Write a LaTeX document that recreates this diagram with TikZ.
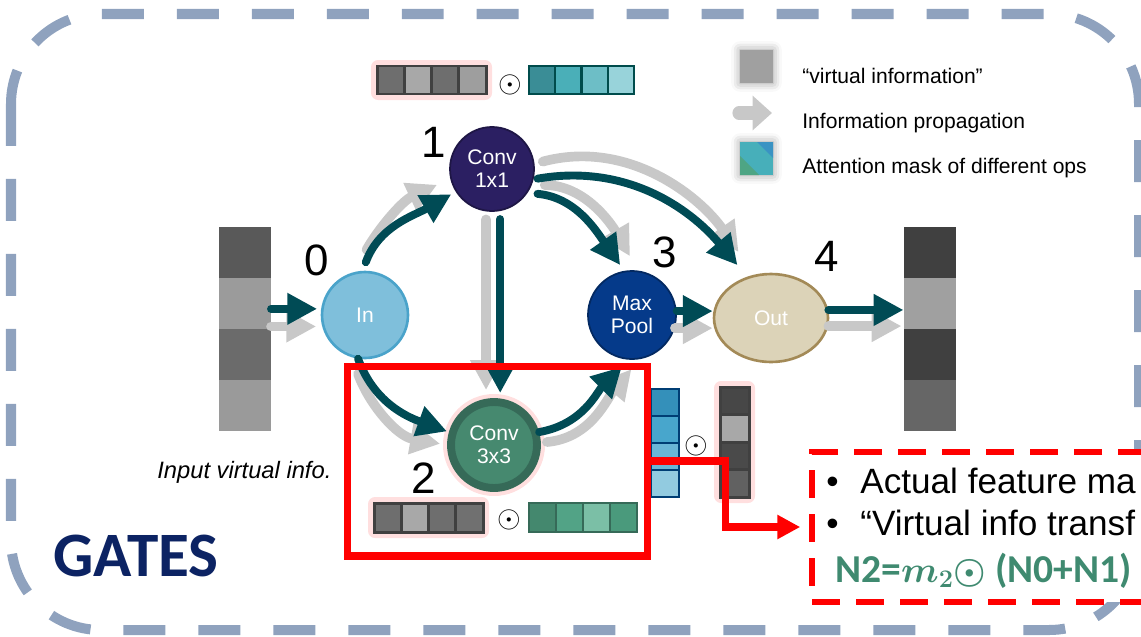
\documentclass[tikz,border=0pt]{standalone}
\usepackage{fontspec}
\setmainfont{Liberation Sans}
\newfontfamily\gatesfont{Carlito}
\usetikzlibrary{arrows.meta,shapes.geometric,positioning,shadows.blur}

\definecolor{framegray}{HTML}{8FA2BE}
\definecolor{flowdark}{HTML}{004B55}
\definecolor{flowgray}{HTML}{C8C8C8}
\definecolor{gatesblue}{HTML}{0C2363}
\definecolor{infill}{HTML}{7FBFDB}
\definecolor{inborder}{HTML}{4AA3CA}
\definecolor{convone}{HTML}{2B1F62}
\definecolor{poolblue}{HTML}{053A8A}
\definecolor{outfill}{HTML}{DCD3B8}
\definecolor{outborder}{HTML}{A38A57}
\definecolor{convthree}{HTML}{46896F}
\definecolor{convring}{HTML}{366A58}
\definecolor{formgreen}{HTML}{3F8A70}
\definecolor{glowpink}{HTML}{FFC4C4}
\definecolor{leggray}{HTML}{A0A0A0}
\definecolor{legteal}{HTML}{47AFBA}
\definecolor{legblue}{HTML}{3A93C3}
\definecolor{leggreen}{HTML}{4EA584}

\begin{document}
\begin{tikzpicture}[
  x=0.02cm, y=-0.02cm,
  frame/.style={draw=framegray, line width=5.7pt, dash pattern=on 0.84cm off 0.66cm,
    rounded corners=1.8cm},
  flow/.style={draw=flowdark, line width=4.5pt, line cap=round,
    -{Triangle[length=17pt,width=17pt]}},
  ghost/.style={draw=flowgray, line width=5.5pt, line cap=round,
    -{Triangle[length=17pt,width=17pt]}},
  opnode/.style={circle, inner sep=0pt, text=white, align=center,
    font=\fontsize{12}{13}\selectfont},
  cell/.style={rectangle, inner sep=0pt, outer sep=0pt,
    minimum width=1.04cm, minimum height=1.02cm},
  idx/.style={anchor=base, inner sep=0pt, font=\fontsize{25}{25}\selectfont},
  legtext/.style={anchor=base west, inner sep=0pt, font=\fontsize{12}{12}\selectfont},
  legbox/.style={rectangle, inner sep=0pt, minimum size=0.66cm,
    blur shadow={shadow xshift=0pt, shadow yshift=0pt, shadow blur radius=5pt, shadow opacity=40}},
  glow/.style={fill=glowpink, opacity=0.55, rounded corners=4pt},
  odot/.style={inner sep=0pt, font=\fontsize{16}{16}\selectfont},
  redlink/.style={draw=red, line width=4pt, -{Triangle[length=13pt,width=13pt]}}
]

\useasboundingbox (0,0) rectangle (1141,636);

% ------------------------------------------------------------
% Outer frame and title
% ------------------------------------------------------------
\draw[frame] (11,14) rectangle (1139,630);

\node[anchor=base west, inner sep=0pt, text=gatesblue,
  font=\gatesfont\bfseries\fontsize{36}{36}\selectfont] (title) at (53,576) {GATES};

% ------------------------------------------------------------
% Legend
% ------------------------------------------------------------
\node[legbox, fill=leggray] (leg1) at (756.5,66.5) {};
\node[legtext] (legtxt1) at (802,83) {“virtual information”};

\coordinate (legtail) at (739,113);
\coordinate (leghead) at (772,113);
\draw[draw=flowgray, line width=7.5pt, line cap=round,
  -{Triangle[length=11pt,width=19pt]}] (legtail) -- (leghead);
\node[legtext] (legtxt2) at (802,128) {Information propagation};

\node[legbox, fill=legteal] (leg3) at (756.5,158.5) {};
\fill[legblue] (757,142) -- (773,142) -- (773,158) -- cycle;
\fill[leggreen] (740,156) -- (740,175) -- (759,175) -- cycle;
\node[legtext] (legtxt3) at (802,173) {Attention mask of different ops};

% ------------------------------------------------------------
% Masks
% ------------------------------------------------------------
\fill[glow] (371,60) rectangle (492,100);
\fill[glow] (368,497) rectangle (489,538);
\fill[glow] (714,381) rectangle (755,503);

\foreach \c [count=\i] in {6E6E6E,A8A8A8,6E6E6E,9E9E9E} {
  \definecolor{tmp}{HTML}{\c}
  \filldraw[fill=tmp, draw=black!75, line width=1.7pt]
    ({377+27.25*(\i-1)},66) rectangle ++(27.25,28);
}
\foreach \c [count=\i] in {3A8D96,4AAFB8,6DBEC6,98D3DA} {
  \definecolor{tmp}{HTML}{\c}
  \filldraw[fill=tmp, draw=teal!60!black, line width=1.2pt]
    ({529+26.25*(\i-1)},66) rectangle ++(26.25,28);
}
\node[odot] (odottop) at (510,85) {$\odot$};

\foreach \c [count=\i] in {6E6E6E,A8A8A8,6E6E6E,707070} {
  \definecolor{tmp}{HTML}{\c}
  \filldraw[fill=tmp, draw=black!75, line width=1.7pt]
    ({374+27.25*(\i-1)},503) rectangle ++(27.25,29);
}
\foreach \c [count=\i] in {44886E,52A386,7BBFA6,4A9A7C} {
  \definecolor{tmp}{HTML}{\c}
  \filldraw[fill=tmp, draw=convring, line width=1.2pt]
    ({529+27*(\i-1)},503) rectangle ++(27,29);
}
\node[odot] (odotbot) at (509,520) {$\odot$};

\foreach \c [count=\i] in {3490BA,48A6CC,6AB6D6,92CBE0} {
  \definecolor{tmp}{HTML}{\c}
  \filldraw[fill=tmp, draw=blue!30!teal!70!black, line width=1.2pt]
    (651,{389+27*(\i-1)}) rectangle ++(28,27);
}
\foreach \c [count=\i] in {474747,A8A8A8,4A4A4A,616161} {
  \definecolor{tmp}{HTML}{\c}
  \filldraw[fill=tmp, draw=black!75, line width=1.7pt]
    (720,{387+27.5*(\i-1)}) rectangle ++(29,27.5);
}
\node[odot] (odotside) at (696,446) {$\odot$};

% ------------------------------------------------------------
% Input and output features
% ------------------------------------------------------------
\foreach \c [count=\i] in {595959,9B9B9B,6B6B6B,9A9A9A} {
  \definecolor{tmp}{HTML}{\c}
  \node[cell, fill=tmp] (inp\i) at (245,{252.5+51*(\i-1)}) {};
}
\foreach \c [count=\i] in {404040,A0A0A0,404040,666666} {
  \definecolor{tmp}{HTML}{\c}
  \node[cell, fill=tmp] (outp\i) at (929.5,{252.5+51*(\i-1)}) {};
}
\node[anchor=base west, inner sep=0pt, font=\itshape\fontsize{13.5}{13.5}\selectfont]
  (incap) at (157,478) {Input virtual info.};

% ------------------------------------------------------------
% Cell nodes
% ------------------------------------------------------------
\fill[glowpink, opacity=0.55] (494,445) circle [radius=51];

\node[opnode, fill=infill, draw=inborder, line width=1.5pt, minimum size=1.72cm]
  (in) at (365,315) {In};
\node[opnode, fill=convone, draw=convone!70!black, line width=1pt, minimum size=1.68cm]
  (c11) at (492,169) {Conv\\1x1};
\node[opnode, fill=convthree, draw=convring, line width=4.5pt, minimum size=1.72cm]
  (c33) at (494,445) {Conv\\3x3};
\node[opnode, fill=poolblue, draw=poolblue!70!black, line width=1pt, minimum size=1.76cm]
  (mp) at (632,315) {Max\\Pool};
\node[ellipse, inner sep=0pt, fill=outfill, draw=outborder, line width=1.5pt, text=white,
  minimum width=2.28cm, minimum height=1.76cm, font=\fontsize{12}{13}\selectfont]
  (outn) at (771,318) {Out};

\node[idx] (n0) at (317,275) {0};
\node[idx] (n1) at (434,157) {1};
\node[idx] (n2) at (424,493) {2};
\node[idx] (n3) at (665,267) {3};
\node[idx] (n4) at (827,271) {4};

% ------------------------------------------------------------
% Information propagation
% ------------------------------------------------------------
\draw[ghost, shorten >=0.12cm] (in.195 -| inp2.east) -- (in.195);
\draw[ghost, shorten <=0.52cm, shorten >=0.29cm] (in.105) to[out=60,in=205] (c11.193);
\draw[ghost, shorten <=0.35cm, shorten >=0.14cm] (in.253) to[out=290,in=170] (c33.180);
\draw[ghost, shorten <=0.16cm, shorten >=0.16cm] (c11.262) -- (c11.262 |- c33.north);
\draw[ghost, shorten <=0.26cm, shorten >=0.33cm] (c11.338) to[out=0,in=120] (mp.82);
\draw[ghost, shorten <=0.17cm, shorten >=0.55cm] (c11.7) to[out=15,in=125] (outn.111);
\draw[ghost] (mp.343) -- (mp.343 -| outn.west);
\draw[ghost, shorten <=0.12cm, shorten >=0.26cm] (c33.3) to[out=5,in=230] (mp.280);
\draw[ghost, shorten >=0.04cm] (outn.352) -- (outn.352 -| outp2.west);

\draw[flow, shorten >=0.08cm] (in.172 -| inp2.east) -- (in.172);
\draw[flow, shorten <=0.18cm, shorten >=0.1cm] (in.93) to[out=70,in=210] (c11.212);
\draw[flow, shorten >=0.04cm] (in.261) to[out=290,in=160] (c33.164);
\draw[flow, shorten <=0.16cm, shorten >=0.1cm] (c11.281) -- (c11.281 |- c33.north);
\draw[flow, shorten <=0.2cm, shorten >=0.14cm] (c11.326) to[out=355,in=125] (mp.100);
\draw[flow, shorten <=0.08cm, shorten >=0.3cm] (c11.346) to[out=10,in=130] (outn.120);
\draw[flow] (mp.5) -- (mp.5 -| outn.west);
\draw[flow, shorten >=0.2cm] (c33.16) to[out=10,in=225] (mp.266);
\draw[flow] (outn.8) -- (outn.8 -| outp2.west);

% ------------------------------------------------------------
% Highlight and note
% ------------------------------------------------------------
\node[draw=red, line width=4pt, inner sep=0pt, minimum width=6.02cm, minimum height=3.8cm]
  (focus) at (497.5,461) {};

\node[draw=red, fill=white, line width=3.2pt, dash pattern=on 0.56cm off 0.32cm,
  inner sep=0pt, minimum width=8cm, minimum height=3cm] (note) at (1012,527) {};

\draw[redlink, shorten >=0.18cm] (focus.east) -- ++(74,0) |- (note.west);

\node[anchor=base west, inner sep=0pt, font=\fontsize{20}{20}\selectfont]
  (line1) at (826,493) {\makebox[0.68cm][l]{•}Actual feature ma};
\node[anchor=base west, inner sep=0pt, font=\fontsize{20}{20}\selectfont]
  (line2) at (826,535) {\makebox[0.68cm][l]{•}“Virtual info transf};
\node[anchor=base west, inner sep=0pt, text=formgreen,
  font=\gatesfont\bfseries\fontsize{22.5}{22.5}\selectfont]
  (formula) at (835,582) {N2={\boldmath$m_2\odot$} (N0+N1)};

\end{tikzpicture}
\end{document}
